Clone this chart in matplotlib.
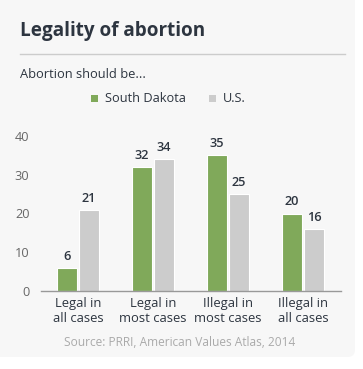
import matplotlib
matplotlib.use('Agg')
import matplotlib.pyplot as plt
from matplotlib.patches import FancyBboxPatch, Rectangle
import numpy as np

categories = ['Legal in\nall cases', 'Legal in\nmost cases', 'Illegal in\nmost cases', 'Illegal in\nall cases']
south_dakota = [6, 32, 35, 20]
us = [21, 34, 25, 16]
yticks = [0, 10, 20, 30, 40]

GREEN = '#80a95a'
GRAY = '#cccccc'
DARK = '#2d3540'

plt.rcParams['font.family'] = ['Open Sans', 'DejaVu Sans']

W, H = 363, 369
fig = plt.figure(figsize=(W / 100, H / 100), dpi=100)
fig.patch.set_facecolor('white')

def px(x, y):
    # pixel coords (from top-left) to figure fraction
    return x / W, 1 - y / H

# card background
card = FancyBboxPatch((-10 / W, 1 - 357 / H), 365 / W, 367 / H,
                      boxstyle='round,pad=0,rounding_size=0.02',
                      transform=fig.transFigure, facecolor='#f7f7f7',
                      edgecolor='none', zorder=-5)
fig.patches.append(card)

x, y = px(20, 31)
fig.text(x, y, 'Legality of abortion', fontsize=13.6, fontweight='bold', color=DARK, va='center', ha='left')
fig.lines.append(plt.Line2D([20 / W, 345 / W], [1 - 54 / H] * 2, transform=fig.transFigure, color='#cccccc', lw=1))
x, y = px(20, 74)
fig.text(x, y, 'Abortion should be...', fontsize=9.3, color=DARK, va='center', ha='left')

# legend
for lx, col, lab in [(91, GREEN, 'South Dakota'), (209, GRAY, 'U.S.')]:
    fig.patches.append(Rectangle((lx / W, 1 - 102 / H), 7 / W, 7 / H, transform=fig.transFigure,
                                 facecolor=col, edgecolor='none'))
    fig.text((lx + 14) / W, 1 - 98 / H, lab, fontsize=9.2, color=DARK, va='center', ha='left')

ax = fig.add_axes([40.5 / W, 1 - 291 / H, 300 / W, 155 / H])
ax.set_zorder(2)
ax.set_facecolor('none')
xs = np.arange(len(categories))
bw = 20 / 75
off = 11 / 75
b1 = ax.bar(xs - off, south_dakota, bw, color=GREEN, edgecolor='white', linewidth=0.8)
b2 = ax.bar(xs + off, us, bw, color=GRAY, edgecolor='white', linewidth=0.8)
for bars, vals in [(b1, south_dakota), (b2, us)]:
    for b, v in zip(bars, vals):
        ax.text(b.get_x() + b.get_width() / 2, v + 1.3, str(v), ha='center', va='bottom',
                fontsize=9.2, fontweight='semibold', color=DARK)

ax.set_xlim(-0.5, 3.5)
ax.set_ylim(0, 40)
ax.set_yticks(yticks)
ax.set_yticklabels([str(t) for t in yticks], fontsize=9.2, color='#666666')
ax.set_xticks(xs)
ax.set_xticklabels(categories, fontsize=9.4, color=DARK, linespacing=1.2)
ax.tick_params(axis='both', length=0)
ax.tick_params(axis='y', pad=8)
ax.tick_params(axis='x', pad=4)
for s in ['top', 'right', 'left']:
    ax.spines[s].set_visible(False)
ax.spines['bottom'].set_color('#999999')
ax.spines['bottom'].set_linewidth(1)

x, y = px(180, 343)
fig.text(x, y, 'Source: PRRI, American Values Atlas, 2014', fontsize=8.6, color='#aaaaaa', va='center', ha='center')

fig.savefig('out.png', dpi=100)
